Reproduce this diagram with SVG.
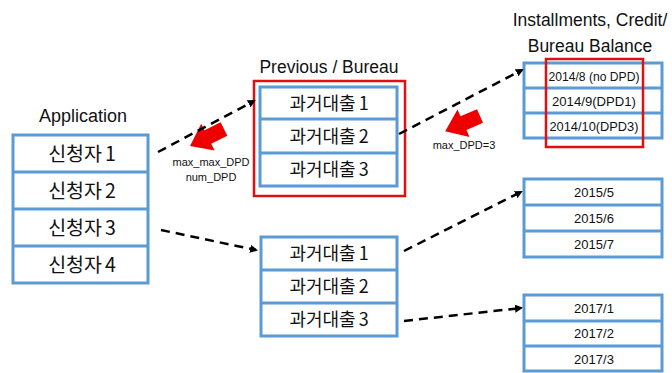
<svg xmlns="http://www.w3.org/2000/svg" width="672" height="373" viewBox="0 0 672 373">
<defs>
<style>
.box{fill:#fff;stroke:#5b9bd5;stroke-width:3}
.div{stroke:#5b9bd5;stroke-width:3}
.red{fill:none;stroke:#e01010;stroke-width:2.5}
.ko{font-family:"Noto Sans CJK KR","Noto Sans",sans-serif;font-size:18px;fill:#111;text-anchor:middle}
.ko2{font-family:"Noto Sans CJK KR","Noto Sans",sans-serif;font-size:19.5px;fill:#111;text-anchor:middle}
.ttl{font-family:"Liberation Sans",Arial,sans-serif;font-size:17.5px;fill:#111;text-anchor:middle}
.dt{font-family:"Liberation Sans",Arial,sans-serif;font-size:13px;fill:#111;text-anchor:middle}
.sm{font-family:"Liberation Sans",Arial,sans-serif;font-size:11px;fill:#111;text-anchor:middle}
.con{stroke:#000;stroke-width:2.5;stroke-dasharray:9 6;fill:none;marker-end:url(#ah)}
.bigarrow{fill:#ee0000}
</style>
<marker id="ah" markerWidth="8" markerHeight="8" refX="6" refY="4" orient="auto" markerUnits="userSpaceOnUse">
<path d="M0,0 L8,4 L0,8 Z" fill="#000"/>
</marker>
<polygon id="redarrow" points="0,-7.5 18,-7.5 18,-15 38,0 18,15 18,7.5 0,7.5"/>
</defs>
<rect width="672" height="373" fill="#fff"/>

<g id="application">
<text class="ttl" x="83" y="122" style="font-size:18px">Application</text>
<rect class="box" x="13" y="135" width="135" height="148"/>
<line class="div" x1="13" y1="172" x2="148" y2="172"/>
<line class="div" x1="13" y1="209" x2="148" y2="209"/>
<line class="div" x1="13" y1="246" x2="148" y2="246"/>
<text class="ko2" x="82" y="161">신청자<tspan dx="3">1</tspan></text>
<text class="ko2" x="82" y="198">신청자<tspan dx="3">2</tspan></text>
<text class="ko2" x="82" y="235">신청자<tspan dx="3">3</tspan></text>
<text class="ko2" x="82" y="272">신청자<tspan dx="3">4</tspan></text>
</g>

<g id="previous-bureau">
<text class="ttl" x="329" y="73">Previous / Bureau</text>
<rect class="red" x="254" y="81" width="151" height="115"/>
<rect class="box" x="260" y="87" width="137" height="99"/>
<line class="div" x1="260" y1="119" x2="397" y2="119"/>
<line class="div" x1="260" y1="153" x2="397" y2="153"/>
<text class="ko" x="329" y="109.5">과거대출<tspan dx="3">1</tspan></text>
<text class="ko" x="329" y="142.5">과거대출<tspan dx="3">2</tspan></text>
<text class="ko" x="329" y="176">과거대출<tspan dx="3">3</tspan></text>
</g>

<g id="previous-2">
<rect class="box" x="261" y="237" width="136" height="99"/>
<line class="div" x1="261" y1="270" x2="397" y2="270"/>
<line class="div" x1="261" y1="303" x2="397" y2="303"/>
<text class="ko" x="329" y="260">과거대출<tspan dx="3">1</tspan></text>
<text class="ko" x="329" y="293">과거대출<tspan dx="3">2</tspan></text>
<text class="ko" x="329" y="326">과거대출<tspan dx="3">3</tspan></text>
</g>

<g id="installments">
<text class="ttl" x="590" y="26">Installments, Credit/</text>
<text class="ttl" x="590" y="52">Bureau Balance</text>
<rect class="box" x="524" y="63" width="138" height="75"/>
<line class="div" x1="524" y1="88" x2="662" y2="88"/>
<line class="div" x1="524" y1="113" x2="662" y2="113"/>
<rect class="red" x="546" y="59" width="97" height="88"/>
<text class="dt" x="594" y="80.5" textLength="91" lengthAdjust="spacingAndGlyphs">2014/8 (no DPD)</text>
<text class="dt" x="594" y="105.5" textLength="84" lengthAdjust="spacingAndGlyphs">2014/9(DPD1)</text>
<text class="dt" x="594" y="130.5" textLength="89" lengthAdjust="spacingAndGlyphs">2014/10(DPD3)</text>
</g>

<g id="balance-2015">
<rect class="box" x="524" y="179" width="138" height="78"/>
<line class="div" x1="524" y1="205" x2="662" y2="205"/>
<line class="div" x1="524" y1="231" x2="662" y2="231"/>
<text class="dt" x="594" y="196.5">2015/5</text>
<text class="dt" x="594" y="222.5">2015/6</text>
<text class="dt" x="594" y="248.5">2015/7</text>
</g>

<g id="balance-2017">
<rect class="box" x="524" y="295" width="138" height="76"/>
<line class="div" x1="524" y1="321" x2="662" y2="321"/>
<line class="div" x1="524" y1="346" x2="662" y2="346"/>
<text class="dt" x="594" y="312.5">2017/1</text>
<text class="dt" x="594" y="338">2017/2</text>
<text class="dt" x="594" y="363.5">2017/3</text>
</g>

<g id="aggregations">
<use href="#redarrow" class="bigarrow" transform="translate(224,129) rotate(153.4)"/>
<text class="sm" x="211" y="166">max_max_DPD</text>
<text class="sm" x="211" y="181">num_DPD</text>
<use href="#redarrow" class="bigarrow" transform="translate(480,116) rotate(156.4)"/>
<text class="sm" x="464" y="149">max_DPD=3</text>
</g>

<g id="connectors">
<line class="con" x1="158" y1="152" x2="254" y2="101"/>
<line class="con" x1="399" y1="134" x2="522" y2="70"/>
<line class="con" x1="161" y1="230" x2="256" y2="250"/>
<line class="con" x1="404" y1="251" x2="521" y2="192"/>
<line class="con" x1="404" y1="321" x2="521" y2="308"/>
</g>
</svg>
